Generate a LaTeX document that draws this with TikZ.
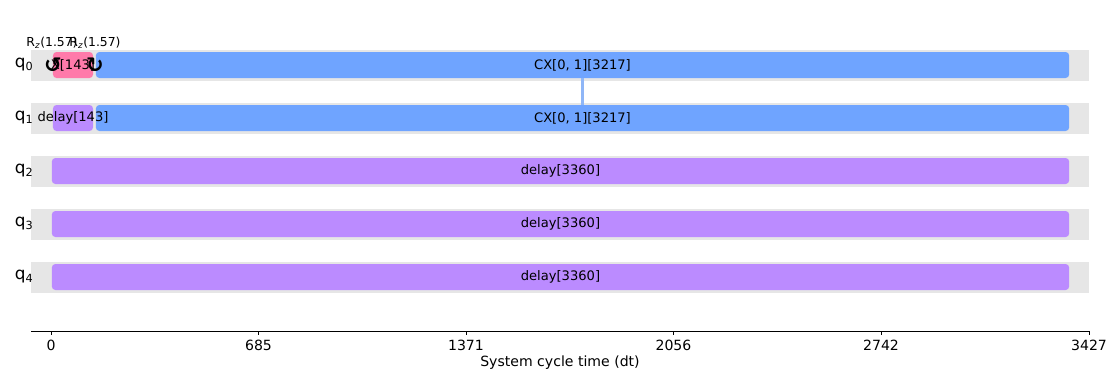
\documentclass[tikz,border=0pt]{standalone}
\usepackage{fontspec}
\setmainfont{DejaVu Sans}
\usetikzlibrary{arrows.meta}
\definecolor{bandgray}{HTML}{E6E6E6}
\definecolor{xpink}{HTML}{FF7AAA}
\definecolor{cxblue}{HTML}{6FA4FF}
\definecolor{delaypurple}{HTML}{BB8BFF}
\definecolor{linkblue}{HTML}{8FB6F7}
\tikzset{
  gate/.style={rounded corners=2.5pt, inner sep=0pt, minimum height=0.65cm},
  gatelabel/.style={inner sep=0pt, font=\fontsize{9.3}{10}\selectfont},
  qlabel/.style={font=\fontsize{12}{12}\selectfont, anchor=west},
  ticklabel/.style={font=\fontsize{10}{10}\selectfont}
}

\begin{document}
\begin{tikzpicture}[x=0.025cm, y=-0.025cm]
\useasboundingbox (0,0) rectangle (1120,384);
% qubit bands
\foreach \i in {0,...,4}{
  \fill[bandgray] (31,50+53*\i) rectangle (1089,81+53*\i);
  \node[qlabel] (q\i) at (10,65+53*\i) {q\textsubscript{\i}};
}
% gate boxes
\node[gate, fill=xpink, minimum width=1cm] (x0) at (73,65) {};
\node[gate, fill=cxblue, minimum width=24.325cm] (cx0) at (582.5,65) {};
\node[gate, fill=delaypurple, minimum width=1cm] (d1) at (73,118) {};
\node[gate, fill=cxblue, minimum width=24.325cm] (cx1) at (582.5,118) {};
\foreach \i in {2,3,4}
  \node[gate, fill=delaypurple, minimum width=25.425cm] (d\i) at (560.5,65+53*\i) {};
% link
\draw[linkblue, line width=1.5pt] (cx0.south) -- (cx1.north);
% gate labels
\node[gatelabel] (x0l) at (x0) {X[143]};
\node[gatelabel] (cx0l) at (cx0) {CX[0, 1][3217]};
\node[gatelabel] (d1l) at (d1) {delay[143]};
\node[gatelabel] (cx1l) at (cx1) {CX[0, 1][3217]};
\foreach \i in {2,3,4}
  \node[gatelabel] (d\i l) at (d\i) {delay[3360]};
% rz markers
\node[font=\fontsize{15}{15}\selectfont\bfseries] (rz0) at (53,65) {↺};
\node[font=\fontsize{15}{15}\selectfont\bfseries] (rz1) at (95,65) {↻};
\node[font=\fontsize{8.8}{9}\selectfont] (rzl0) at (52,43) {R\textsubscript{\itshape z}(1.57)};
\node[font=\fontsize{8.8}{9}\selectfont] (rzl1) at (95,43) {R\textsubscript{\itshape z}(1.57)};
% time axis
\draw[line width=0.6pt] (31,331) -- (1089,331);
\foreach \t/\x in {0/51,685/258.5,1371/466,2056/673.5,2742/881,3427/1089}{
  \draw[line width=0.6pt] (\x,331) -- (\x,335);
  \node[ticklabel] (t\t) at (\x,345) {\t};
}
\node[ticklabel] (xlab) at (560,363) {System cycle time (dt)};
\end{tikzpicture}
\end{document}
